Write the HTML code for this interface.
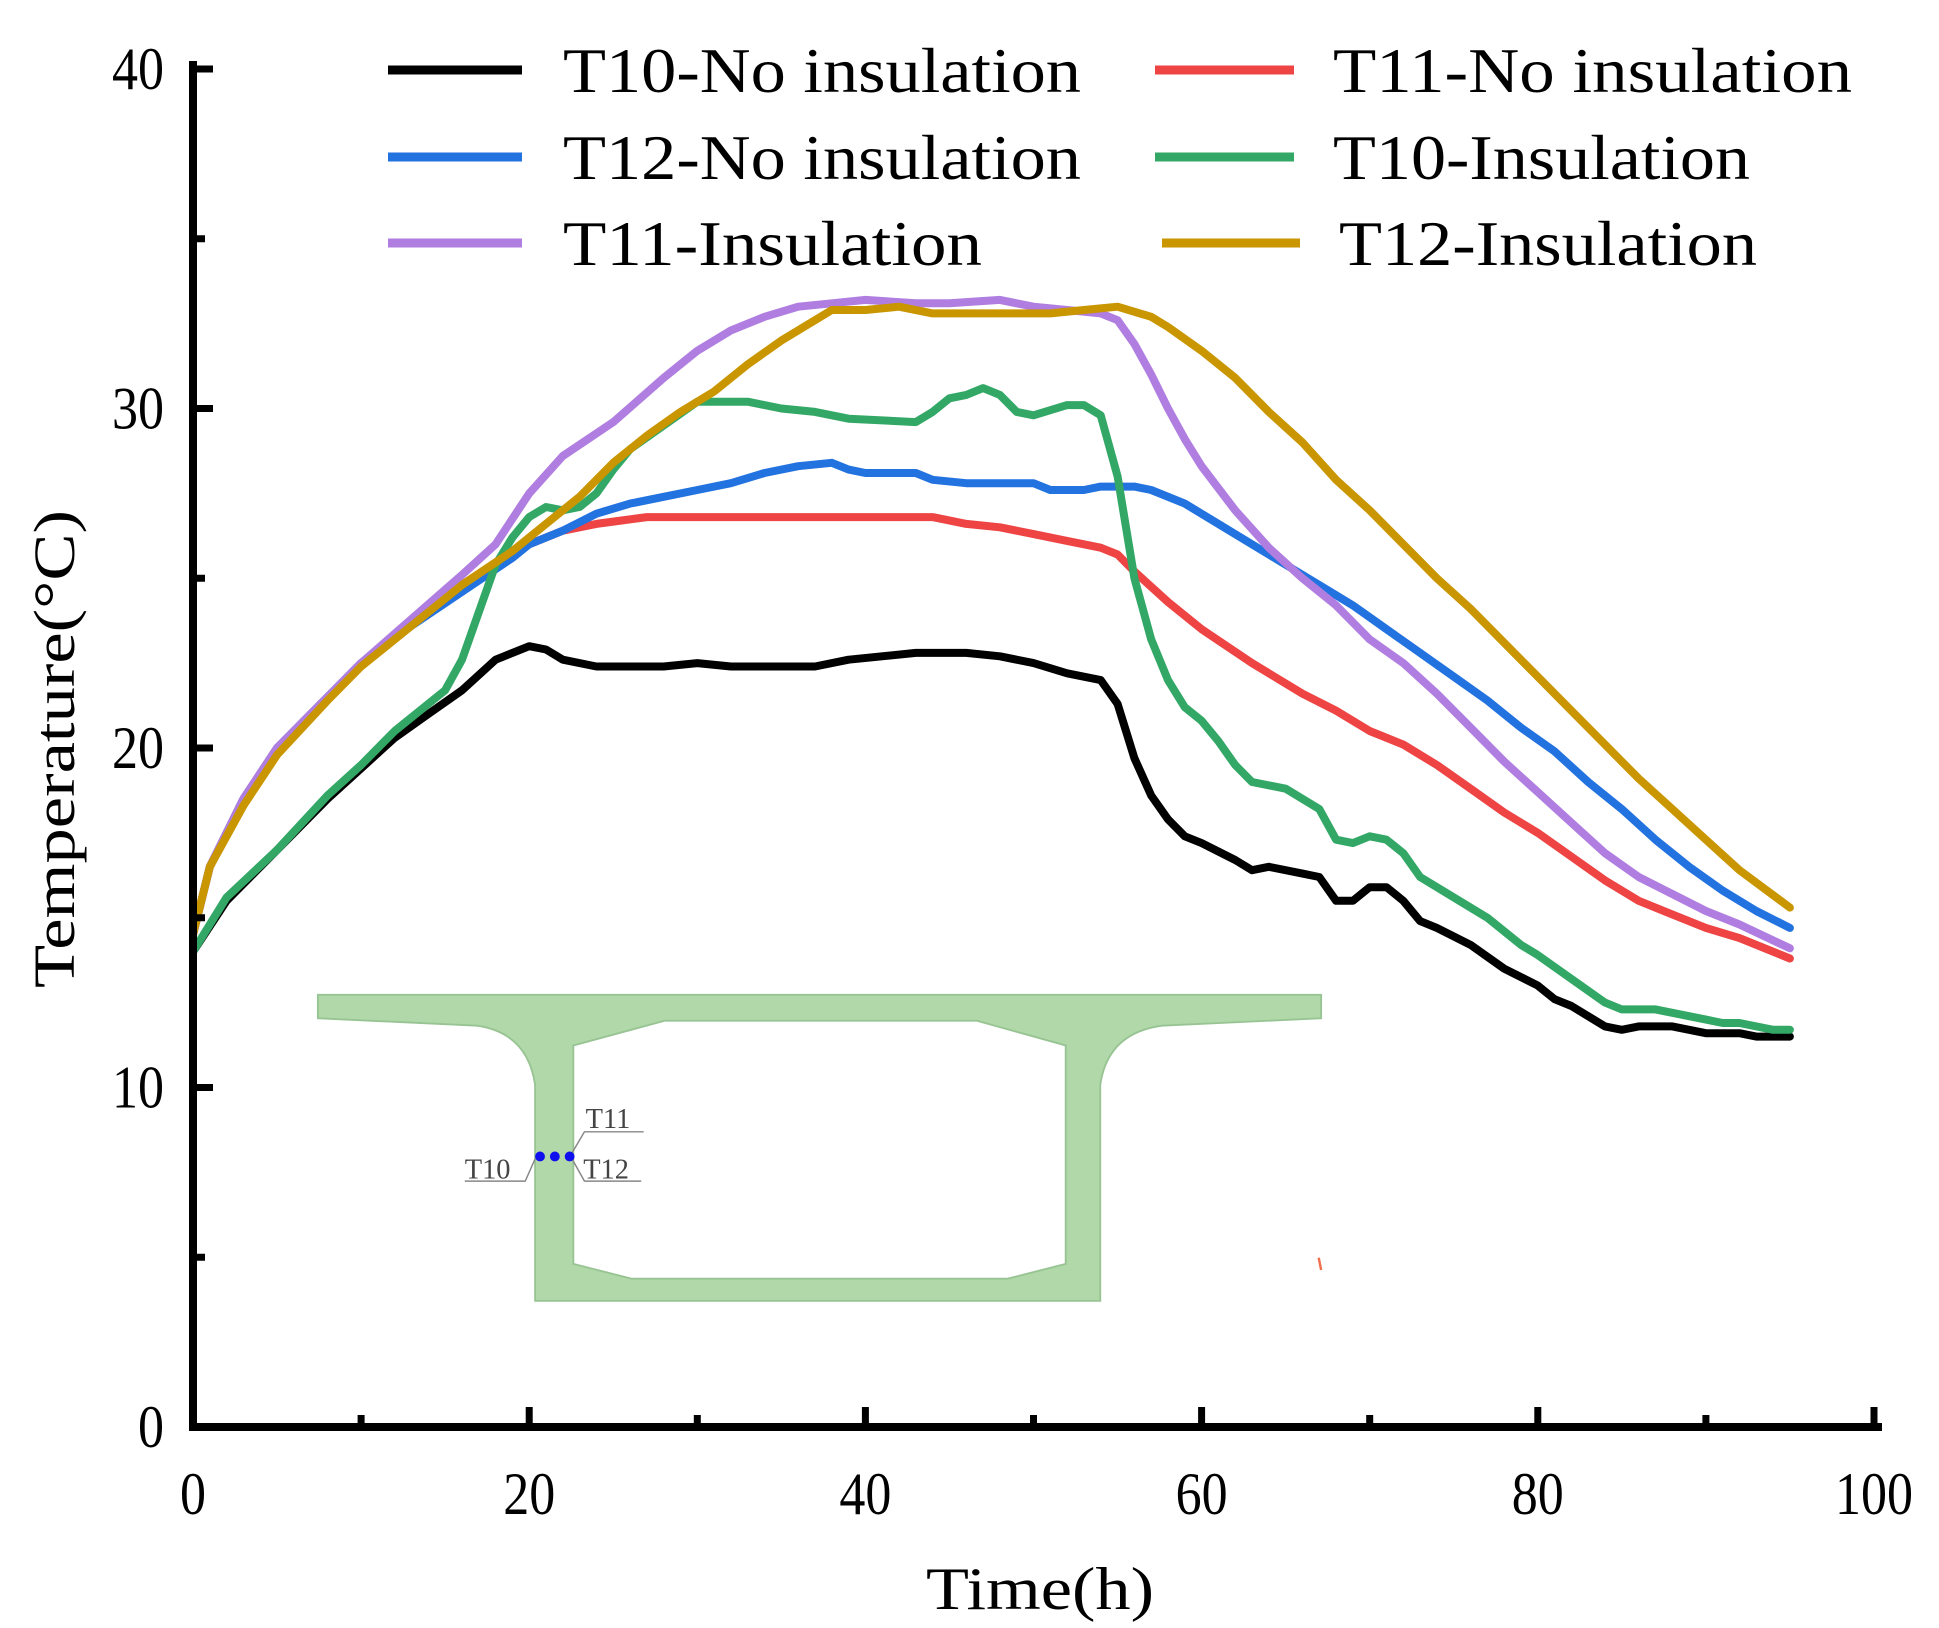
<!DOCTYPE html>
<html><head><meta charset="utf-8"><style>
html,body{margin:0;padding:0;background:#fff}
svg{display:block}
text{font-family:"Liberation Serif",serif}
</style></head><body>
<svg id="chart" width="1939" height="1628" viewBox="0 0 1939 1628" xmlns="http://www.w3.org/2000/svg">
<g id="inset" transform="translate(2,-1) scale(1.234)">
 <path fill="#b0d8a8" stroke="#98c494" stroke-width="1.5" fill-rule="evenodd"
  d="M256,807 L1069,807 L1069,826 L940,832 Q896,838 890,880 L890,1055 L432,1055 L432,880 Q426,838 385,832 L256,826 Z
     M537,828 L790,828 L862,848 L862,1025 L815,1037 L510,1037 L463,1025 L463,848 Z"/>
 <g stroke="#888" stroke-width="1.2" fill="none">
  <path d="M462,935 L472,918 L520,918"/>
  <path d="M432,940 L424,958 L375,958"/>
  <path d="M462,940 L472,958 L518,958"/>
 </g>
 <circle cx="436" cy="938" r="4" fill="#1010ee"/><circle cx="448" cy="938" r="4" fill="#1010ee"/><circle cx="460" cy="938" r="4" fill="#1010ee"/>
 <text x="473" y="915" font-size="23" fill="#444">T11</text>
 <text x="375" y="956" font-size="23" fill="#444">T10</text>
 <text x="471" y="956" font-size="23" fill="#444">T12</text>
 <path d="M1067,1020 L1069,1030" stroke="#f07050" stroke-width="2"/>
</g>
<g id="series"></g>
<g id="axes"></g>
<g id="legend"></g>
<text x="0" y="0" font-size="58" transform="translate(74,749) rotate(-90)" text-anchor="middle" textLength="478" lengthAdjust="spacingAndGlyphs">Temperature(°C)</text>
<text x="1040" y="1609" font-size="60" text-anchor="middle" textLength="228" lengthAdjust="spacingAndGlyphs">Time(h)</text>
</svg>
<script>
const xTicks=[0,20,40,60,80,100];
const yTicks=[0,10,20,30,40];
const seriesNames=["T10-No insulation","T11-No insulation","T12-No insulation","T10-Insulation","T11-Insulation","T12-Insulation"];
const t10NoT=[0,2,5,8,10,12,14,16,18,20,21,22,24,28,30,32,37,39,43,46,48,50,52,54,55,56,57,58,59,60,62,63,64,66,67,68,69,70,71,72,73,74,76,78,80,81,82,84,85,86,88,90,92,93,95];
const t10NoV=[14,15.5,17,18.5,19.4,20.3,21,21.7,22.6,23,22.9,22.6,22.4,22.4,22.5,22.4,22.4,22.6,22.8,22.8,22.7,22.5,22.2,22,21.3,19.7,18.6,17.9,17.4,17.2,16.7,16.4,16.5,16.3,16.2,15.5,15.5,15.9,15.9,15.5,14.9,14.7,14.2,13.5,13,12.6,12.4,11.8,11.7,11.8,11.8,11.6,11.6,11.5,11.5];
const t11NoT=[0,1,3,5,8,10,13,16,19,22,24,27,44,46,48,50,52,54,55,56,58,60,63,66,68,70,72,74,76,78,80,82,84,86,88,90,92,95];
const t11NoV=[14.5,16.5,18.5,20,21.5,22.5,23.7,24.8,25.8,26.4,26.6,26.8,26.8,26.6,26.5,26.3,26.1,25.9,25.7,25.2,24.3,23.5,22.5,21.6,21.1,20.5,20.1,19.5,18.8,18.1,17.5,16.8,16.1,15.5,15.1,14.7,14.4,13.8];
const t12NoT=[0,1,3,5,8,10,13,16,19,20,22,24,26,28,30,32,34,36,38,39,40,43,44,46,50,51,53,54,56,57,59,61,64,67,69,71,73,75,77,79,81,83,85,87,89,91,93,95];
const t12NoV=[14.5,16.5,18.5,20,21.5,22.5,23.6,24.6,25.6,26,26.4,26.9,27.2,27.4,27.6,27.8,28.1,28.3,28.4,28.2,28.1,28.1,27.9,27.8,27.8,27.6,27.6,27.7,27.7,27.6,27.2,26.6,25.7,24.8,24.2,23.5,22.8,22.1,21.4,20.6,19.9,19,18.2,17.3,16.5,15.8,15.2,14.7];
const t10InsT=[0,2,5,8,10,12,14,15,16,17,18,19,20,21,22,23,24,25,26,28,30,33,35,37,39,43,44,45,46,47,48,49,50,52,53,54,55,56,57,58,59,60,61,62,63,65,67,68,69,70,71,72,73,75,77,79,80,82,84,85,87,88,90,91,92,94,95];
const t10InsV=[14,15.6,17,18.6,19.5,20.5,21.3,21.7,22.6,24,25.4,26.2,26.8,27.1,27,27.1,27.5,28.2,28.8,29.5,30.2,30.2,30,29.9,29.7,29.6,29.9,30.3,30.4,30.6,30.4,29.9,29.8,30.1,30.1,29.8,28,25,23.2,22,21.2,20.8,20.2,19.5,19,18.8,18.2,17.3,17.2,17.4,17.3,16.9,16.2,15.6,15,14.2,13.9,13.2,12.5,12.3,12.3,12.2,12,11.9,11.9,11.7,11.7];
const t11InsT=[0,1,3,5,8,10,13,16,18,20,22,25,28,30,32,34,36,38,40,43,45,48,50,52,54,55,56,57,58,59,60,62,64,66,68,69,70,72,74,76,78,80,82,84,86,88,90,92,95];
const t11InsV=[14.5,16.5,18.5,20,21.5,22.5,23.8,25.1,26,27.5,28.6,29.6,30.9,31.7,32.3,32.7,33,33.1,33.2,33.1,33.1,33.2,33,32.9,32.8,32.6,31.9,31,30,29.1,28.3,27,25.9,25,24.2,23.7,23.2,22.5,21.6,20.6,19.6,18.7,17.8,16.9,16.2,15.7,15.2,14.8,14.1];
const t12InsT=[0,1,3,5,8,10,13,16,19,21,23,25,27,29,31,33,35,37,38,40,42,44,48,51,53,55,57,58,60,62,64,66,68,70,72,74,76,78,80,82,84,86,88,90,92,95];
const t12InsV=[14.5,16.5,18.3,19.8,21.4,22.4,23.6,24.8,25.8,26.6,27.4,28.4,29.2,29.9,30.5,31.3,32,32.6,32.9,32.9,33,32.8,32.8,32.8,32.9,33,32.7,32.4,31.7,30.9,29.9,29,27.9,27,26,25,24.1,23.1,22.1,21.1,20.1,19.1,18.2,17.3,16.4,15.3];

const NS="http://www.w3.org/2000/svg";
const X0=193,X1=1874,Y0=1427,Y1=69;
function xs(t){return X0+(t/100)*(X1-X0);}
function ys(v){return Y0-(v/40)*(Y0-Y1);}
function mk(tag,attrs,parent){const e=document.createElementNS(NS,tag);for(const k in attrs)e.setAttribute(k,attrs[k]);parent.appendChild(e);return e;}

const sg=document.getElementById('series');
function drawSeries(ts,vs,color,name){
  let d="";
  for(let i=0;i<ts.length;i++)d+=(i?"L":"M")+xs(ts[i]).toFixed(1)+","+ys(vs[i]).toFixed(1);
  const p=mk('path',{d:d,fill:'none',stroke:color,'stroke-width':8,'stroke-linejoin':'round','stroke-linecap':'round'},sg);
  
  
}
drawSeries(t10NoT,t10NoV,'#000000','line-t10-no-insulation');
drawSeries(t11NoT,t11NoV,'#ee4444','line-t11-no-insulation');
drawSeries(t12NoT,t12NoV,'#2272e0','line-t12-no-insulation');
drawSeries(t10InsT,t10InsV,'#33a866','line-t10-insulation');
drawSeries(t11InsT,t11InsV,'#b07ee0','line-t11-insulation');
drawSeries(t12InsT,t12InsV,'#c99600','line-t12-insulation');

const ag=document.getElementById('axes');
const ax=mk('path',{d:`M${X0},${Y1-4} L${X0},${Y0} L${X1+4},${Y0}`,fill:'none',stroke:'#000','stroke-width':8,'stroke-linecap':'square'},ag);


for(let t=0;t<=100;t+=10){
  const major=t%20===0;
  const tk=mk('line',{x1:xs(t),x2:xs(t),y1:Y0,y2:Y0-(major?20:12),stroke:'#000','stroke-width':7},ag);
  
  
}
for(let v=0;v<=40;v+=5){
  const major=v%10===0;
  const tk=mk('line',{x1:X0,x2:X0+(major?20:12),y1:ys(v),y2:ys(v),stroke:'#000','stroke-width':7},ag);
  
  
}
xTicks.forEach(t=>{
  const s=String(t);
  const e=mk('text',{x:xs(t),y:1514,'font-size':60,'text-anchor':'middle',textLength:26*s.length,lengthAdjust:'spacingAndGlyphs'},ag);
  e.textContent=s;
  
  
});
yTicks.forEach(v=>{
  const s=String(v);
  const e=mk('text',{x:164,y:ys(v)+20,'font-size':60,'text-anchor':'end',textLength:26*s.length,lengthAdjust:'spacingAndGlyphs'},ag);
  e.textContent=s;
  
  
});

const lg=document.getElementById('legend');
const legColors=['#000000','#ee4444','#2272e0','#33a866','#b07ee0','#c99600'];
const legPos=[[388,522,563,518,70],[1155,1294,1333,519,70],[388,522,563,518,157],[1155,1294,1333,417,157],[388,522,563,419,243],[1162,1300,1339,418,243]];
seriesNames.forEach((n,i)=>{
  const p=legPos[i];
  const g=mk('g',{},lg);
  
  
  mk('line',{x1:p[0],x2:p[1],y1:p[4],y2:p[4],stroke:legColors[i],'stroke-width':9},g);
  const t=mk('text',{x:p[2],y:p[4]+22,'font-size':64,textLength:p[3],lengthAdjust:'spacingAndGlyphs'},g);
  t.textContent=n;
});
</script>
</body></html>
